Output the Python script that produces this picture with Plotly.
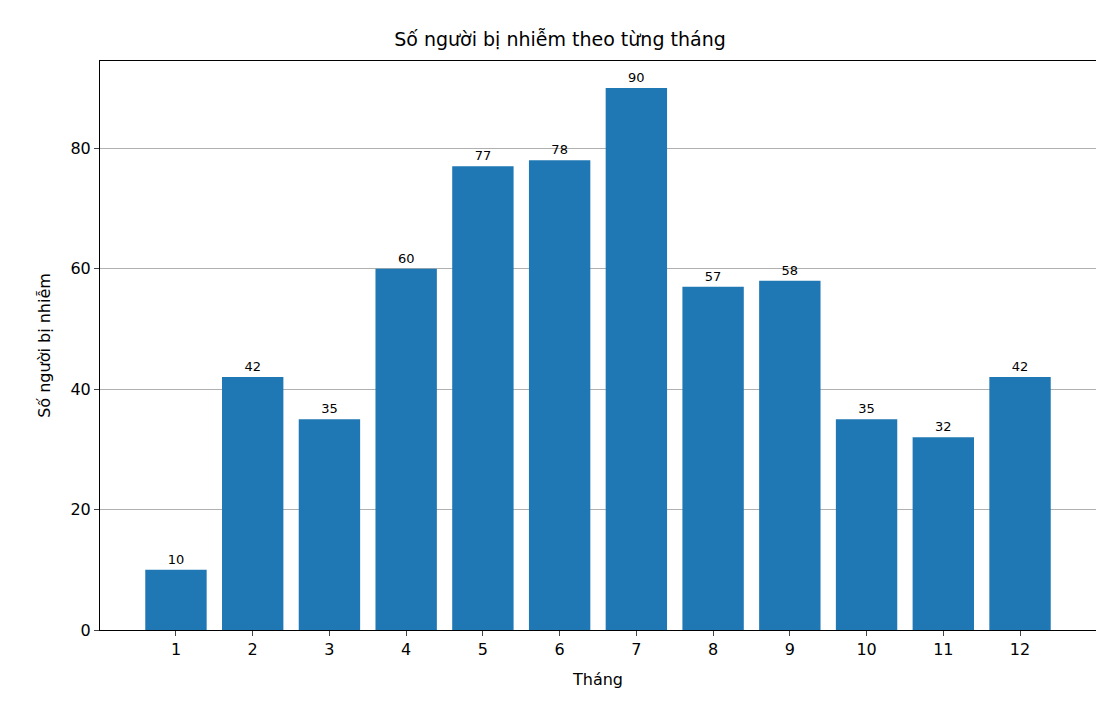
import plotly.graph_objects as go

months = [1, 2, 3, 4, 5, 6, 7, 8, 9, 10, 11, 12]
cases = [10, 42, 35, 60, 77, 78, 90, 57, 58, 35, 32, 42]

fig = go.Figure()
fig.add_trace(go.Bar(
    x=months, y=cases, width=0.8, marker_color="#1f77b4", marker_line_width=0,
    text=[str(v) for v in cases], textposition="outside",
    textfont=dict(size=13, color="black"), cliponaxis=False,
))

fig.update_layout(
    width=1104, height=704,
    margin=dict(l=92, r=16, t=53, b=82),
    paper_bgcolor="white", plot_bgcolor="white",
    font=dict(family="DejaVu Sans", size=16, color="black"),
    title=dict(text="Số người bị nhiễm theo từng tháng", x=0.5, xanchor="center",
               y=0.955, yanchor="middle", font=dict(size=19)),
    showlegend=False,
    xaxis=dict(range=[0.01, 12.99], tickvals=months, ticks="outside", ticklen=5,
               showline=True, linecolor="black", mirror=True, showgrid=False,
               title=dict(text="Tháng", font=dict(size=16)), zeroline=False),
    yaxis=dict(range=[0, 94.5], tickvals=[0, 20, 40, 60, 80], ticks="outside", ticklen=5,
               showline=True, linecolor="black", mirror=True,
               showgrid=True, gridcolor="#b0b0b0", gridwidth=0.6, zeroline=False,
               title=dict(text="Số người bị nhiễm", font=dict(size=16))),
)

fig.write_html("out.html")
